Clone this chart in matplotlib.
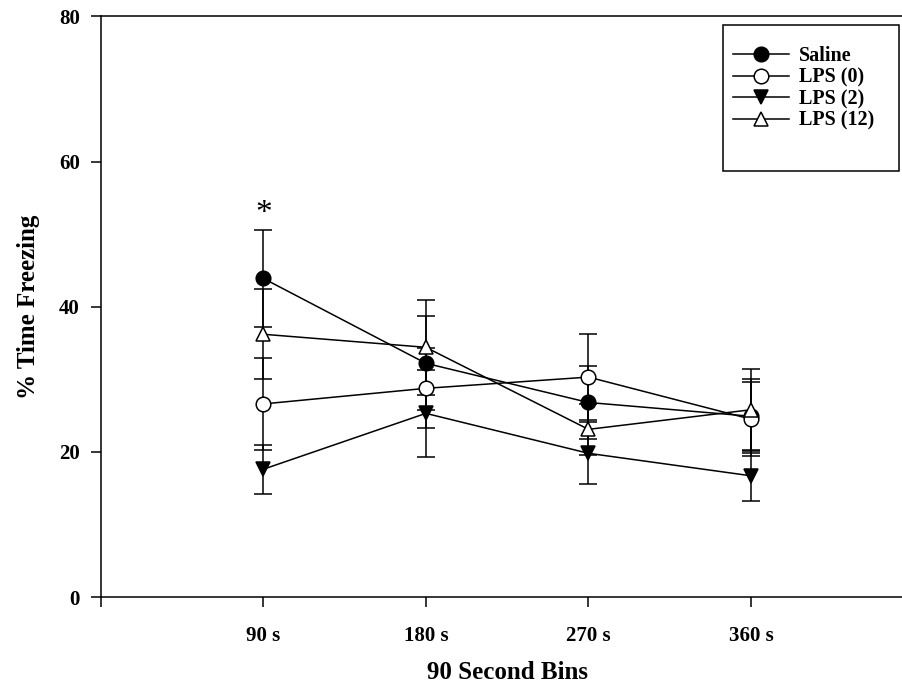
import matplotlib
matplotlib.use("Agg")
import matplotlib.pyplot as plt
from matplotlib.patches import Rectangle

plt.rcParams.update({
    "font.family": ["Liberation Serif", "DejaVu Serif"],
    "font.weight": "bold",
    "axes.labelweight": "bold",
    "axes.linewidth": 1.1,
})

# ---------------- data ----------------
bins = [90, 180, 270, 360]
tick_labels = ["", "90 s", "180 s", "270 s", "360 s", ""]

saline = [43.9, 32.2, 26.8, 24.9]
saline_se = [6.7, 6.5, 5.0, 5.1]

lps0 = [26.6, 28.75, 30.3, 24.5]
lps0_se = [6.35, 5.5, 5.95, 5.1]

lps2 = [17.6, 25.3, 19.8, 16.7]
lps2_se = [3.4, 6.0, 4.25, 3.45]

lps12 = [36.2, 34.4, 23.1, 25.8]
lps12_se = [6.2, 6.55, 3.5, 5.6]

series = [
    ("Saline", saline, saline_se, "o", "black"),
    ("LPS (0)", lps0, lps0_se, "o", "white"),
    ("LPS (2)", lps2, lps2_se, "v", "black"),
    ("LPS (12)", lps12, lps12_se, "^", "white"),
]

# ---------------- plot ----------------
fig = plt.figure(figsize=(9.02, 6.89), dpi=100)
ax = fig.add_axes([0.1116, 0.1335, 0.9013, 0.8428])

handles = []
for name, vals, se, mk, fc in series:
    ax.errorbar(bins, vals, yerr=se, fmt="none", ecolor="black",
                elinewidth=1.1, capsize=6.5, capthick=1.1, zorder=2)
    h, = ax.plot(bins, vals, color="black", linewidth=1.1, marker=mk,
                 markersize=10.5 if mk == "o" else 10, markerfacecolor=fc,
                 markeredgecolor="black", markeredgewidth=1.1,
                 label=name, zorder=3)
    handles.append(h)

ax.text(90, 52.8, "*", ha="center", va="center", fontsize=24,
        fontweight="normal")

ax.set_xlim(0, 450)
ax.set_ylim(0, 80)
ax.set_xticks([0, 90, 180, 270, 360, 450])
ax.set_xticklabels(tick_labels)
ax.set_yticks([0, 20, 40, 60, 80])

ax.spines["right"].set_visible(False)
ax.tick_params(axis="both", direction="out", length=7, width=1.1,
               labelsize=15)
ax.tick_params(axis="x", pad=14)
ax.tick_params(axis="y", pad=8)

ax.set_xlabel("90 Second Bins", fontsize=18, labelpad=11)
ax.set_ylabel("% Time Freezing", fontsize=18, labelpad=14)

leg = ax.legend(handles=handles, loc="upper left",
                bbox_to_anchor=(725 / 902, 1 - 38 / 689),
                bbox_transform=fig.transFigure, frameon=False,
                fontsize=14.5, handlelength=2.8, handletextpad=0.45,
                labelspacing=0.08, borderpad=0.4, borderaxespad=0)
for t in leg.get_texts():
    t.set_fontweight("bold")

fig.patches.append(Rectangle((723 / 902, 1 - 171 / 689), 176 / 902,
                             146 / 689, transform=fig.transFigure,
                             fill=False, edgecolor="black", linewidth=1.1))

fig.savefig("out.png", dpi=100, facecolor="white")
